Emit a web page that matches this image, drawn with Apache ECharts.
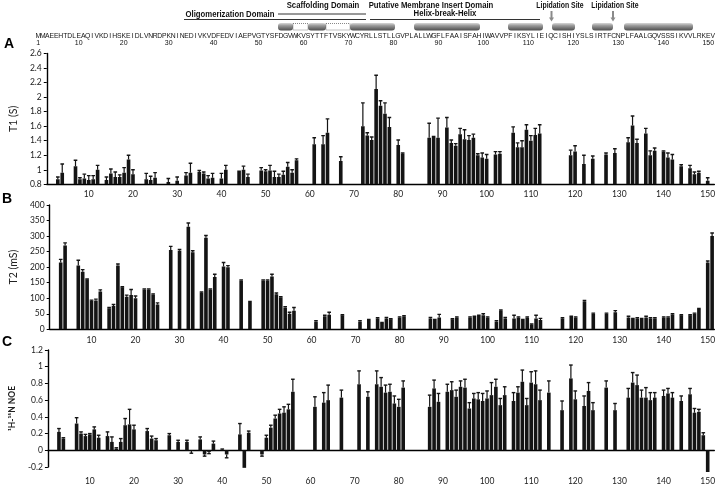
<!DOCTYPE html>
<html>
<head>
<meta charset="utf-8">
<script src="https://cdn.jsdelivr.net/npm/echarts@6/dist/echarts.min.js"></script>
<style>
html,body{margin:0;padding:0;background:#fff}
#chart{width:718px;height:486px}
</style>
</head>
<body>
<div id="chart"></div>
<script>
// Cav-3 construct sequence, one letter per residue (1..151)
var sequence = "MMAEEHTDLEAQIVKDIHSKEIDLVNRDPKNINEDIVKVDFEDVIAEPVGTYSFDGVWKVSYTTFTVSKYWCYRLLSTLLGVPLALLWGFLFAAISFAHIWAVVPFIKSYLIEIQCISHIYSLSIRTFCNPLFAALGQVSSSIKVVLRKEV";
var residues = sequence.split('').map(function (c, i) { return String(i + 1); });

// panel A: T1 (s)
var t1Res = [3,4,7,8,9,10,11,12,14,15,16,17,18,19,20,23,24,25,28,30,32,33,35,36,37,38,40,41,44,45,46,49,50,51,52,53,54,55,56,57,61,63,64,67,72,73,74,75,76,77,78,80,81,87,88,89,91,92,93,94,95,96,97,98,99,100,102,103,106,107,108,109,110,111,112,119,120,122,124,127,129,132,133,134,136,137,138,140,141,142,144,146,147,148,150];
var t1Val = [0.87,0.96,1.05,0.87,0.88,0.86,0.87,1.00,0.86,0.95,0.90,0.90,0.96,1.14,0.94,0.87,0.86,0.89,0.83,0.85,0.92,0.96,0.97,0.95,0.88,0.89,0.88,1.00,0.97,1.00,0.90,0.99,0.98,0.99,0.90,0.90,0.93,1.04,0.96,1.13,1.35,1.35,1.51,1.12,1.60,1.47,1.41,2.11,1.88,1.77,1.59,1.34,1.22,1.44,1.45,1.44,1.58,1.37,1.33,1.49,1.42,1.41,1.44,1.20,1.17,1.15,1.21,1.22,1.51,1.31,1.31,1.55,1.40,1.48,1.50,1.20,1.25,1.08,1.15,1.21,1.23,1.38,1.61,1.37,1.50,1.20,1.26,1.25,1.17,1.14,1.05,1.02,0.94,0.96,0.85];
var t1Err = [0.03,0.12,0.08,0.02,0.06,0.06,0.05,0.06,0.04,0.06,0.07,0.03,0.07,0.06,0.06,0.08,0.05,0.07,0.05,0.05,0.04,0.13,0.02,0.02,0.04,0.06,0.07,0.06,0.01,0.05,0.04,0.04,0.02,0.07,0.08,0.04,0.05,0.06,0.04,0.02,0.09,0.12,0.19,0.06,0.32,0.04,0.04,0.19,0.07,0.15,0.13,0.07,0.01,0.20,0.01,0.27,0.14,0.04,0.03,0.08,0.13,0.06,0.05,0.02,0.06,0.06,0.04,0.03,0.08,0.06,0.09,0.07,0.07,0.09,0.12,0.07,0.08,0.12,0.04,0.02,0.06,0.06,0.13,0.05,0.07,0.06,0.04,0.01,0.06,0.07,0.02,0.04,0.03,0.02,0.04];

// panel B: T2 (ms)
var t2Res = [3,4,7,8,9,10,11,12,14,15,16,17,18,19,20,22,23,24,25,28,30,32,33,35,36,37,38,40,41,44,46,49,50,51,52,53,54,55,56,61,63,64,67,71,73,75,76,77,78,80,81,87,88,89,92,93,96,97,98,99,100,102,103,104,106,107,108,109,110,111,112,117,119,120,122,124,127,129,132,133,134,135,136,137,138,140,141,142,144,146,147,148,150,151];
var t2Val = [215,270,205,185,160,92,93,122,68,75,205,135,105,110,100,128,128,112,80,255,253,330,248,118,295,128,168,202,200,157,88,157,157,170,113,103,70,50,60,25,42,47,45,25,30,35,20,35,32,38,42,35,30,38,32,38,38,40,43,45,38,25,60,35,35,38,30,38,15,35,30,35,40,38,90,50,50,55,38,33,35,33,38,35,35,38,38,48,45,45,50,65,215,300];
var t2Err = [10,8,17,7,2,2,4,5,2,5,5,2,5,18,7,2,2,2,5,12,4,12,5,2,7,2,9,13,5,2,2,2,2,7,4,2,3,5,10,3,3,8,2,3,2,2,2,3,2,2,2,3,2,10,2,2,2,2,2,5,2,3,2,3,10,2,2,2,2,10,5,2,2,2,3,2,2,5,4,2,2,2,4,2,2,2,2,2,2,2,2,2,5,10];

// panel C: 1H-15N heteronuclear NOE
var noeRes = [3,4,7,8,9,10,11,12,14,15,16,17,18,19,20,23,24,25,28,30,32,33,35,36,37,38,40,41,44,45,46,49,50,51,52,53,54,55,56,61,63,64,67,71,73,75,76,77,78,79,80,81,87,88,89,91,92,93,94,95,96,97,98,99,100,101,102,103,104,106,107,108,109,110,111,112,114,117,119,120,122,123,124,127,129,132,133,134,135,136,137,138,140,141,142,144,146,147,148,149,150];
var noeVal = [0.22,0.14,0.32,0.20,0.17,0.19,0.25,0.15,0.17,0.10,0.02,0.10,0.30,0.31,0.25,0.23,0.14,0.12,0.18,0.10,0.10,-0.005,0.13,-0.05,-0.02,0.08,0.005,-0.05,0.19,-0.21,0.21,-0.05,0.15,0.27,0.38,0.44,0.45,0.49,0.70,0.52,0.57,0.60,0.63,0.79,0.64,0.79,0.76,0.69,0.70,0.56,0.52,0.75,0.52,0.74,0.58,0.70,0.72,0.64,0.76,0.75,0.50,0.62,0.61,0.59,0.62,0.66,0.76,0.54,0.66,0.59,0.69,0.82,0.54,0.81,0.79,0.60,0.69,0.48,0.86,0.61,0.53,0.71,0.48,0.75,0.48,0.63,0.81,0.78,0.63,0.63,0.60,0.63,0.65,0.68,0.63,0.59,0.67,0.45,0.46,0.18,-0.26];
var noeErr = [0.04,0.01,0.07,0.02,0.02,0.01,0.03,0.03,0.05,0.06,0.01,0.04,0.08,0.18,0.05,0.03,0.03,0.02,0.02,0.02,0.02,0.03,0.03,0.02,0.02,0.03,0.01,0.04,0.13,0,0.02,0.02,0.03,0.03,0.04,0.05,0.07,0.06,0.15,0.12,0.12,0.18,0.09,0.16,0.06,0.16,0.11,0.09,0.09,0.09,0.09,0.08,0.14,0.10,0.10,0.09,0.10,0.08,0.07,0.10,0.07,0.06,0.08,0.09,0.09,0.15,0.09,0.08,0.10,0.10,0.07,0.14,0.08,0.13,0.16,0.12,0.14,0.11,0.16,0.10,0.12,0.10,0.09,0.08,0.08,0.11,0.12,0.12,0.09,0.12,0.09,0.06,0.07,0.06,0.06,0.06,0.07,0.05,0.03,0.03,0];

var seqLabels = [1,10,20,30,40,50,60,70,80,90,100,110,120,130,140,150];

var ink = '#141414';
var axisFont = 'Lato, "Liberation Sans", sans-serif';
var seqFont = '"Liberation Sans", Arial, sans-serif';

function toData(res, val, err) {
  return res.map(function (r, i) { return [r - 1, val[i], err[i]]; });
}

function barRenderer(base) {
  return function (params, api) {
    var x = api.value(0), v = api.value(1), e = api.value(2);
    var top = api.coord([x, v]);
    var bot = api.coord([x, base]);
    var w = api.size([1, 0])[0] * 0.82;
    var kids = [{
      type: 'rect',
      shape: { x: top[0] - w / 2, y: Math.min(top[1], bot[1]), width: w, height: Math.abs(bot[1] - top[1]) },
      style: { fill: ink }
    }];
    if (e > 0) {
      var tip = api.coord([x, v < 0 ? v - e : v + e]);
      kids.push({ type: 'line', shape: { x1: top[0], y1: top[1], x2: top[0], y2: tip[1] }, style: { stroke: ink, lineWidth: 1.2 } });
      kids.push({ type: 'line', shape: { x1: top[0] - w / 2, y1: tip[1], x2: top[0] + w / 2, y2: tip[1] }, style: { stroke: ink, lineWidth: 1.4 } });
    }
    return { type: 'group', children: kids };
  };
}

function xAx(grid, margin) {
  return {
    type: 'category', gridIndex: grid, data: residues, boundaryGap: true,
    axisLine: { lineStyle: { color: '#000', width: 1.4 } },
    axisTick: { alignWithLabel: true, length: 3, lineStyle: { color: '#000' },
      interval: function (i) { return (i + 1) % 10 === 5; } },
    axisLabel: { interval: function (i) { return (i + 1) % 10 === 0; },
      fontSize: 8.5, color: '#222', margin: margin, fontFamily: axisFont }
  };
}

function yAx(grid, min, max, step, name, gap, nameStyle) {
  return {
    type: 'value', gridIndex: grid, min: min, max: max, interval: step,
    name: name, nameLocation: 'middle', nameGap: gap, nameRotate: 90,
    nameTextStyle: nameStyle,
    axisLine: { show: true, lineStyle: { color: '#000', width: 1.4 } },
    axisTick: { show: true, length: 3, lineStyle: { color: '#000' } },
    axisLabel: { fontSize: 8.5, color: '#222', margin: 5, fontFamily: axisFont },
    splitLine: { show: false }
  };
}

var nameStyle = { fontSize: 10.5, color: '#222', fontFamily: axisFont };

// header decorations (domain map)
function hText(t, x, y, sx) {
  return { type: 'text', x: x, y: y, scaleX: sx || 0.9,
    style: { text: t, fill: '#111', font: 'bold 8.6px "Liberation Sans", Arial, sans-serif', align: 'center', verticalAlign: 'middle' } };
}
function hLine(x1, x2, y) {
  return { type: 'line', shape: { x1: x1, y1: y, x2: x2, y2: y }, style: { stroke: '#333', lineWidth: 1 } };
}
function helix(x1, x2) {
  return { type: 'rect', shape: { x: x1, y: 23, width: x2 - x1, height: 7.5, r: 3 },
    style: { fill: new echarts.graphic.LinearGradient(0, 0, 0, 1, [
      { offset: 0, color: '#d8d8d8' }, { offset: 0.35, color: '#9a9a9a' }, { offset: 1, color: '#4d4d4d' }]) } };
}
function loopBox(x1, x2) {
  return { type: 'rect', shape: { x: x1, y: 23.5, width: x2 - x1, height: 6.5 },
    style: { fill: 'none', stroke: '#555', lineWidth: 0.7, lineDash: [1, 1] } };
}
function arrow(x) {
  return { type: 'group', children: [
    { type: 'line', shape: { x1: x, y1: 11, x2: x, y2: 18 }, style: { stroke: '#8a8a8a', lineWidth: 2 } },
    { type: 'polygon', shape: { points: [[x - 2.5, 17.5], [x + 2.5, 17.5], [x, 21.5]] }, style: { fill: '#8a8a8a' } }
  ] };
}
function panelLetter(t, x, y) {
  return { type: 'text', x: x, y: y, style: { text: t, fill: '#000', font: 'bold 14px "Liberation Sans", Arial, sans-serif', align: 'center', verticalAlign: 'middle' } };
}

var chart = echarts.init(document.getElementById('chart'), null, { renderer: 'canvas' });
chart.setOption({
  animation: false,
  backgroundColor: '#fff',
  grid: [
    { left: 37, top: 53.5, width: 678, height: 130.8 },
    { left: 39, top: 205, width: 678, height: 124.3 },
    { left: 39, top: 350, width: 678, height: 130.3 },
    { left: 36, top: 39, width: 679.5, height: 1 }
  ],
  xAxis: [
    xAx(0, 5.5),
    xAx(1, 6.5),
    xAx(2, 10),
    { type: 'category', gridIndex: 3, position: 'top', data: sequence.split(''), boundaryGap: true,
      axisLine: { show: false }, axisTick: { show: false },
      axisLabel: { interval: 0, fontSize: 6.8, margin: 2.5, verticalAlign: 'middle', color: '#111', fontFamily: seqFont } },
    { type: 'category', gridIndex: 3, position: 'bottom', data: residues, boundaryGap: true,
      axisLine: { show: false }, axisTick: { show: false },
      axisLabel: { interval: function (i, v) { return seqLabels.indexOf(+v) >= 0; },
        fontSize: 7, margin: 3, verticalAlign: 'middle', color: '#111', fontFamily: seqFont } }
  ],
  yAxis: [
    yAx(0, 0.8, 2.6, 0.2, 'T1 (S)', 20, nameStyle),
    yAx(1, 0, 400, 50, 'T2 (mS)', 22, nameStyle),
    yAx(2, -0.2, 1.2, 0.2, '\u00b9H-\u00b9\u2075N NOE', 23, { fontSize: 8.5, fontWeight: 'bold', color: '#222', fontFamily: axisFont }),
    { type: 'value', gridIndex: 3, show: false }
  ],
  series: [
    { type: 'custom', xAxisIndex: 0, yAxisIndex: 0, clip: true, silent: true,
      renderItem: barRenderer(0.8), encode: { x: 0, y: 1 }, data: toData(t1Res, t1Val, t1Err) },
    { type: 'custom', xAxisIndex: 1, yAxisIndex: 1, clip: true, silent: true,
      renderItem: barRenderer(0), encode: { x: 0, y: 1 }, data: toData(t2Res, t2Val, t2Err) },
    { type: 'custom', xAxisIndex: 2, yAxisIndex: 2, clip: false, silent: true,
      renderItem: barRenderer(0), encode: { x: 0, y: 1 }, data: toData(noeRes, noeVal, noeErr) }
  ],
  graphic: [
    hText('Scaffolding Domain', 323, 5.5),
    hText('Oligomerization Domain', 230, 14.5),
    hText('Putative Membrane Insert Domain', 431, 5.5),
    hText('Helix-break-Helix', 445, 14),
    hText('Lipidation Site', 560, 5.5, 0.8),
    hText('Lipidation Site', 615, 5.5, 0.8),
    hLine(278, 366, 14),
    hLine(184, 366, 19.5),
    hLine(370, 540, 19.5),
    arrow(551.5),
    arrow(613),
    helix(278, 293), loopBox(293, 308), helix(308, 326), loopBox(326, 350), helix(350, 395),
    helix(414, 480), helix(508, 543), helix(552, 575), helix(592, 613), helix(624, 693),
    panelLetter('A', 9, 44),
    panelLetter('B', 7, 199),
    panelLetter('C', 7, 342)
  ]
});
</script>
</body>
</html>
